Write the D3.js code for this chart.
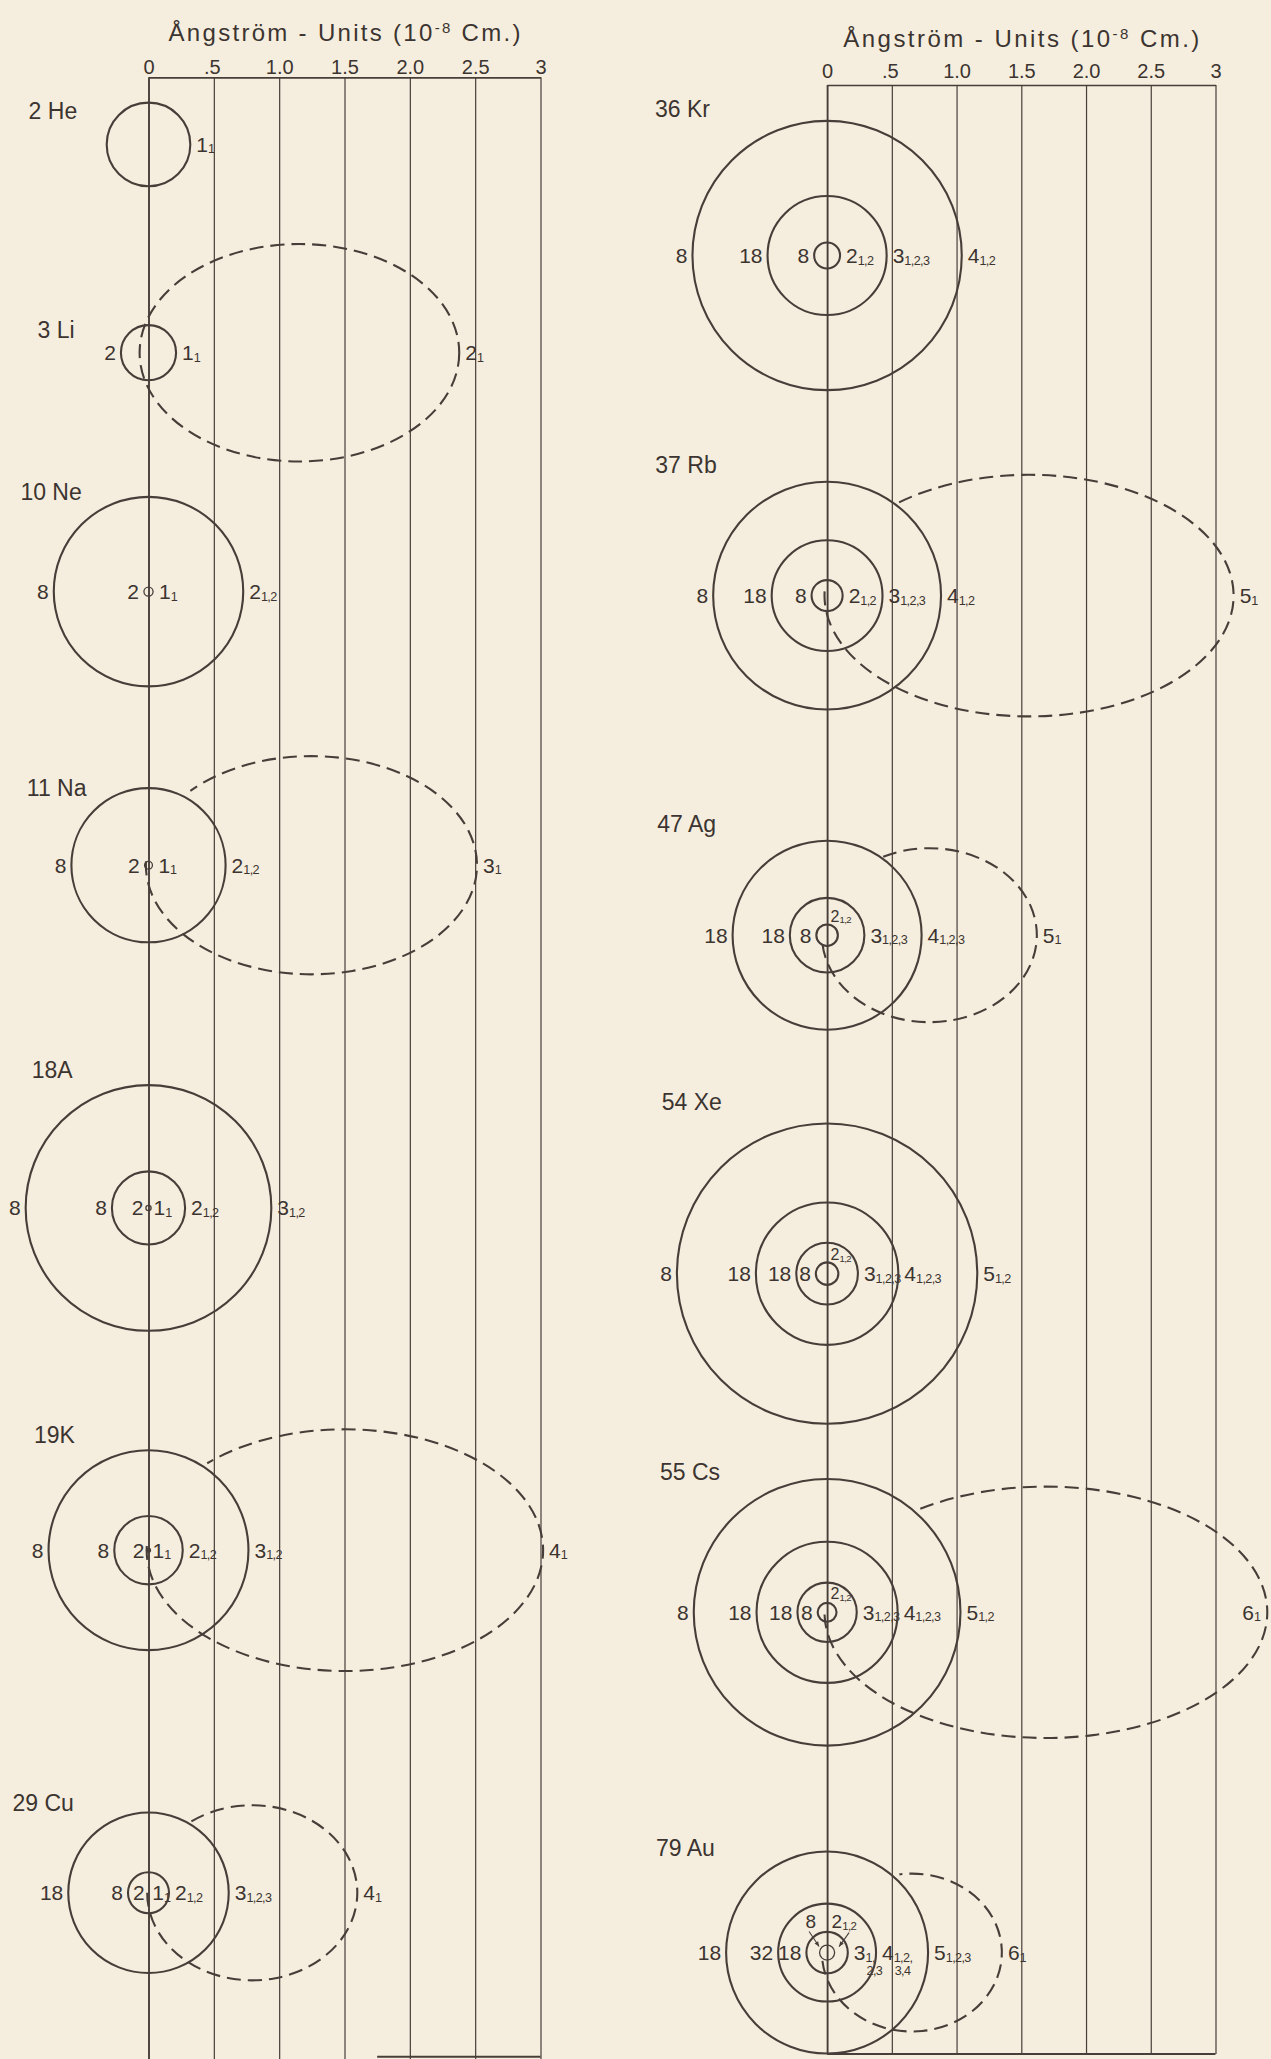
<!DOCTYPE html>
<html>
<head>
<meta charset="utf-8">
<script src="https://cdn.jsdelivr.net/npm/d3@7"></script>
<style>
  html, body { margin: 0; padding: 0; background: #f5eede; }
  svg { display: block; }
  text { font-family: "Liberation Sans", "DejaVu Sans", sans-serif; fill: #3c3430; }
</style>
</head>
<body>
<svg id="chart" width="1271" height="2059"></svg>
<script>
// ---- scale of the two strips (Ångström units) ----
const tickValues = [0, 0.5, 1, 1.5, 2, 2.5, 3];
const tickLabels = ["0", ".5", "1.0", "1.5", "2.0", "2.5", "3"];

// ---- atoms ----
const elements = ["2 He", "3 Li", "10 Ne", "11 Na", "18A", "19K", "29 Cu",
                  "36 Kr", "37 Rb", "47 Ag", "54 Xe", "55 Cs", "79 Au"];
const column = [0, 0, 0, 0, 0, 0, 0, 1, 1, 1, 1, 1, 1];
// nucleus distance below the top edge of its strip, Å
const nucleusDepth = [0.514, 2.108, 3.936, 6.03, 8.653, 11.272, 13.894,
                      1.317, 3.944, 6.567, 9.181, 11.797, 14.425];
// radii of the circular orbits, Å, innermost first
const shellRadii = [
  [0.32],
  [0.211],
  [0.035, 0.725],
  [0.03, 0.59],
  [0.02, 0.28, 0.94],
  [0.012, 0.262, 0.765],
  [0.01, 0.157, 0.614],
  [0.1, 0.46, 1.04],
  [0.12, 0.428, 0.88],
  [0.083, 0.288, 0.73],
  [0.087, 0.238, 0.55, 1.16],
  [0.073, 0.229, 0.545, 1.03],
  [0.058, 0.16, 0.378, 0.78]
];
// number of electrons in each shell
const shellCounts = [
  [""], ["2"], ["2", "8"], ["2", "8"], ["2", "8", "8"], ["2", "8", "8"], ["2", "8", "18"],
  ["8", "18", "8"], ["8", "18", "8"], ["8", "18", "18"], ["8", "18", "18", "8"],
  ["8", "18", "18", "8"], ["8", "18", "32", "18"]
];
// quantum numbers n with the k-subscripts ("n|k" ; a third part is a second subscript line)
const shellOrbits = [
  ["1|1"], ["1|1"], ["1|1", "2|1,2"], ["1|1", "2|1,2"], ["1|1", "2|1,2", "3|1,2"],
  ["1|1", "2|1,2", "3|1,2"], ["1|1", "2|1,2", "3|1,2,3"],
  ["2|1,2", "3|1,2,3", "4|1,2"], ["2|1,2", "3|1,2,3", "4|1,2"],
  ["2|1,2", "3|1,2,3", "4|1,2,3"], ["2|1,2", "3|1,2,3", "4|1,2,3", "5|1,2"],
  ["2|1,2", "3|1,2,3", "4|1,2,3", "5|1,2"], ["2|1,2", "3|1,|2,3", "4|1,2,|3,4", "5|1,2,3"]
];
// how the innermost orbit is marked
const coreMark = ["ring", "ring", "ring", "ring", "ring", "dot", "none",
                  "ring", "ring", "ring", "ring", "ring", "ring"];
// valence electron on an elliptical orbit: horizontal extent and half height, Å
const valenceSpan = [null, [-0.068, 2.378], null, [-0.02, 2.514], null, [-0.014, 3.02], [-0.01, 1.598],
                     null, [-0.02, 3.14], [-0.04, 1.62], null, [-0.02, 3.40], [-0.04, 1.35]];
const valenceHalfHeight = [null, 0.832, null, 0.835, null, 0.925, 0.67,
                           null, 0.933, 0.672, null, 0.971, 0.61];
const valenceLabel = [null, "2|1", null, "3|1", null, "4|1", "4|1",
                      null, "5|1", "5|1", null, "6|1", "6|1"];

// ---- drawing settings ----
const ink = "#473e39";
const panels = [
  { x: d3.scaleLinear([0, 3], [148.5, 540.5]), top: 77.3, bottom: 2059, tickPad: 3.5, titleY: 41, titleW: 352 },
  { x: d3.scaleLinear([0, 3], [827.1, 1215.5]), top: 85, bottom: 2054, tickPad: 7.5, titleY: 46.5, titleW: 356 }
];
panels.forEach(p => { p.k = p.x(1) - p.x(0); });
// where the atom names sit
const nameAt = [[28.6, 119], [37.5, 338.3], [20.4, 500], [26.8, 796], [31.7, 1078.3], [34, 1442.7], [12.5, 1811],
                [655, 116.7], [655.3, 473.3], [657.3, 832.3], [661.7, 1110], [660, 1480], [656, 1856]];
// part of the ellipse hidden inside the core (parameter angles, degrees)
const hiddenArc = [null, null, null, [137, 178], null, [134, 178], [126, 180],
                   null, [130, 178], [116, 186], null, [125, 181], [98, 186]];
// small shells whose n = 2 label is written above the nucleus
const labelAbove = [false, false, false, false, false, false, false, false, false, true, true, true, true];

const svg = d3.select("#chart");
svg.append("rect").attr("width", 1271).attr("height", 2059).attr("fill", "#f5eede");

// ---- strips: title, ticks, grid ----
panels.forEach((p, pi) => {
  const axis = d3.axisTop(p.x)
    .tickValues(tickValues)
    .tickFormat((d, i) => tickLabels[i])
    .tickSizeInner(-(p.bottom - p.top))
    .tickSizeOuter(0)
    .tickPadding(p.tickPad);
  const g = svg.append("g").attr("transform", `translate(0,${p.top})`).call(axis);
  g.select(".domain").attr("stroke", ink).attr("stroke-width", 1.7);
  g.selectAll(".tick line").attr("stroke", ink).attr("stroke-width", d => d === 0 ? 1.9 : 1.2);
  g.selectAll(".tick text")
    .attr("fill", "#3c3430")
    .attr("font-size", 20)
    .attr("font-family", "Liberation Sans, DejaVu Sans, sans-serif")
    .attr("dx", (d, i) => tickLabels[i].startsWith(".") ? -2 : 0);

  const t = svg.append("text")
    .attr("x", (p.x(0) + p.x(3)) / 2)
    .attr("y", p.titleY)
    .attr("text-anchor", "middle")
    .attr("font-size", 24)
    .attr("textLength", p.titleW)
    .attr("lengthAdjust", "spacing");
  t.append("tspan").text("Ångström - Units (10");
  t.append("tspan").attr("font-size", 15).attr("dy", -8).text("-8");
  t.append("tspan").attr("dy", 8).text(" Cm.)");

  // bottom edge of the strip
  const from = pi === 0 ? 1.75 : 0;
  const yb = pi === 0 ? 2056.7 : p.bottom;
  svg.append("line")
    .attr("x1", p.x(from)).attr("x2", p.x(3))
    .attr("y1", yb).attr("y2", yb)
    .attr("stroke", ink).attr("stroke-width", 1.9);
});

// text with a subscript ("n|k" or "n|k|second line")
function orbitText(g, spec, x, y, size, anchor) {
  const parts = spec.split("|");
  const t = g.append("text")
    .attr("x", x).attr("y", y)
    .attr("font-size", size)
    .attr("text-anchor", anchor || "start");
  const main = t.append("tspan").text(parts[0]);
  if (parts[1]) {
    t.append("tspan").attr("font-size", size * 0.6).attr("dy", 1.5)
      .attr("letter-spacing", -0.6).text(parts[1]);
  }
  if (parts[2]) {
    const w = main.node().getComputedTextLength();
    g.append("text")
      .attr("x", x + w + 1).attr("y", y + size * 0.72)
      .attr("font-size", size * 0.6)
      .attr("letter-spacing", -0.6)
      .text(parts[2]);
  }
  return t;
}

// ---- atoms ----
elements.forEach((name, i) => {
  const p = panels[column[i]];
  const cx = p.x(0);
  const cy = p.top + nucleusDepth[i] * p.k;
  const g = svg.append("g");
  const fs = 21;

  // valence ellipse (dashed)
  if (valenceSpan[i]) {
    const [x0, x1] = valenceSpan[i];
    const ecx = (x0 + x1) / 2, erx = (x1 - x0) / 2, ery = valenceHalfHeight[i];
    const rxp = erx * p.k, ryp = ery * p.k;
    const pt = t => {
      const a = t * Math.PI / 180;
      return [p.x(ecx + erx * Math.cos(a)), cy - ryp * Math.sin(a)];
    };
    const dashed = { "stroke": ink, "stroke-width": 2.1, "fill": "none", "stroke-dasharray": "14,7" };
    let el;
    if (hiddenArc[i]) {
      const t0 = hiddenArc[i][1], t1 = hiddenArc[i][0] + 360;
      const a = pt(t0), b = pt(t1);
      const large = (t1 - t0) > 180 ? 1 : 0;
      el = g.append("path").attr("d", `M${a[0]},${a[1]} A${rxp},${ryp} 0 ${large} 0 ${b[0]},${b[1]}`);
    } else {
      el = g.append("ellipse").attr("cx", p.x(ecx)).attr("cy", cy).attr("rx", rxp).attr("ry", ryp);
    }
    Object.entries(dashed).forEach(([k, v]) => el.attr(k, v));

    // label at the far end of the ellipse
    const xr = p.x(x1);
    const probe = orbitText(g, valenceLabel[i], xr + 6, cy + 7.5, fs);
    const w = probe.node().getComputedTextLength();
    if (xr + 5 + w > 1269) {
      probe.remove();
      orbitText(g, valenceLabel[i], xr - 7, cy + 7.5, fs, "end");
    }
  }

  // circular orbits
  shellRadii[i].forEach((r, j) => {
    const rp = r * p.k;
    const gap = rp < 3 ? 2.5 : 5;
    if (j === 0 && coreMark[i] === "dot") {
      g.append("circle").attr("cx", cx).attr("cy", cy).attr("r", 2.6).attr("fill", ink);
    } else if (!(j === 0 && coreMark[i] === "none")) {
      g.append("circle").attr("cx", cx).attr("cy", cy).attr("r", rp)
        .attr("fill", "none").attr("stroke", ink)
        .attr("stroke-width", rp < 8 ? 1.3 : 2.1);
    }

    const count = shellCounts[i][j];
    const orbit = shellOrbits[i][j];
    if (j === 0 && labelAbove[i]) {
      if (name === "79 Au") {
        // both labels above, with pointers to the innermost ring
        g.append("text").attr("x", cx - 11).attr("y", cy - 24.5).attr("font-size", 19)
          .attr("text-anchor", "end").text(count);
        orbitText(g, orbit, cx + 4.5, cy - 24.5, 19);
        [[-18, -21, -8, -6], [22, -20, 12, -6]].forEach(([ax, ay, bx, by]) => {
          g.append("line").attr("x1", cx + ax).attr("y1", cy + ay).attr("x2", cx + bx).attr("y2", cy + by)
            .attr("stroke", ink).attr("stroke-width", 1.1);
          const ang = Math.atan2(by - ay, bx - ax);
          const hx = cx + bx, hy = cy + by, L = 5, W = 2.2;
          const p1 = [hx - L * Math.cos(ang) + W * Math.sin(ang), hy - L * Math.sin(ang) - W * Math.cos(ang)];
          const p2 = [hx - L * Math.cos(ang) - W * Math.sin(ang), hy - L * Math.sin(ang) + W * Math.cos(ang)];
          g.append("path").attr("d", `M${hx},${hy}L${p1[0]},${p1[1]}L${p2[0]},${p2[1]}Z`).attr("fill", ink);
        });
      } else {
        g.append("text").attr("x", cx - rp - gap).attr("y", cy + 7.5).attr("font-size", fs)
          .attr("text-anchor", "end").text(count);
        orbitText(g, orbit, cx + 3.5, cy - 13.3, 16);
      }
    } else {
      if (count) {
        g.append("text").attr("x", cx - rp - gap).attr("y", cy + 7.5).attr("font-size", fs)
          .attr("text-anchor", "end").text(count);
      }
      orbitText(g, orbit, cx + rp + gap + (rp < 3 ? 0 : 1), cy + 7.5, fs);
    }
  });

  // atom name
  g.append("text").attr("x", nameAt[i][0]).attr("y", nameAt[i][1])
    .attr("font-size", 23).text(name);
});
</script>
</body>
</html>
